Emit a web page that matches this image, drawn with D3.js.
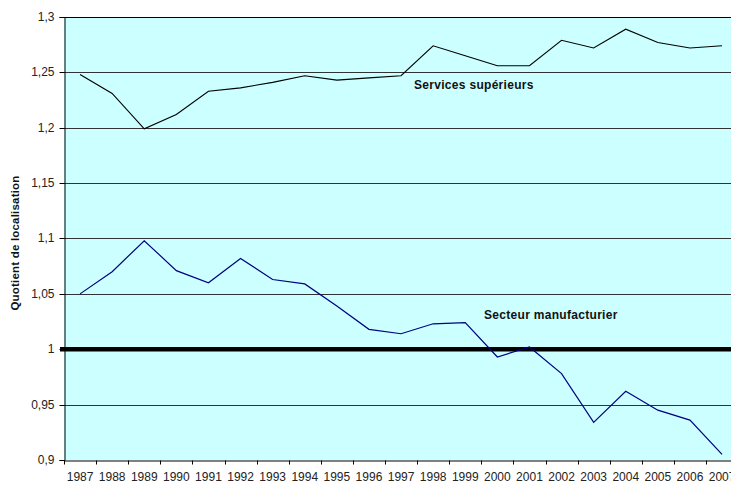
<!DOCTYPE html>
<html>
<head>
<meta charset="utf-8">
<script src="https://cdn.jsdelivr.net/npm/d3@7"></script>
<style>
  body { margin: 0; background: #fff; }
  svg { display: block; font-family: Arial, "Liberation Sans", sans-serif; }
  .tick text { fill: #222; font-size: 12px; }
  .lbl { font-weight: bold; font-size: 12px; fill: #111; letter-spacing: 0.3px; }
</style>
</head>
<body>
<svg></svg>
<script>
// data
var years = ["1987","1988","1989","1990","1991","1992","1993","1994","1995","1996","1997",
             "1998","1999","2000","2001","2002","2003","2004","2005","2006","2007"];
var services = [1.248,1.231,1.199,1.212,1.233,1.236,1.241,1.247,1.243,1.245,1.247,
                1.274,1.265,1.256,1.256,1.279,1.272,1.289,1.277,1.272,1.274];
var manuf = [1.050,1.070,1.098,1.071,1.060,1.082,1.063,1.059,1.039,1.018,1.014,
             1.023,1.024,0.993,1.002,0.978,0.934,0.962,0.945,0.936,0.905];
var yTicks = [0.9,0.95,1,1.05,1.1,1.15,1.2,1.25,1.3];

var width = 731, height = 483;
var plotLeft = 64, plotTop = 17, plotBottom = 460;
var band = 32.1;

var svg = d3.select("svg")
    .attr("width", width)
    .attr("height", height);

var x = d3.scaleBand()
    .domain(years)
    .range([plotLeft, plotLeft + band * years.length])
    .padding(0);

var y = d3.scaleLinear()
    .domain([0.9, 1.3])
    .range([plotBottom, plotTop]);

var cx = d => x(d) + x.bandwidth() / 2;

// plot background
svg.append("rect")
    .attr("x", plotLeft)
    .attr("y", plotTop)
    .attr("width", x.range()[1] - plotLeft)
    .attr("height", plotBottom - plotTop)
    .attr("fill", "#ccffff");

// horizontal grid
svg.append("g")
  .selectAll("line")
  .data(yTicks.filter(d => d > 0.9))
  .enter()
  .append("line")
    .attr("x1", plotLeft)
    .attr("x2", x.range()[1])
    .attr("y1", d => Math.round(y(d)) + 0.5)
    .attr("y2", d => Math.round(y(d)) + 0.5)
    .attr("stroke", d => d === 1.3 ? "#000" : "#333")
    .attr("stroke-width", 1);

// y axis
var yAxis = svg.append("g")
    .attr("transform", "translate(" + (plotLeft + 0.5) + ",0)")
    .call(d3.axisLeft(y)
        .tickValues(yTicks)
        .tickSize(5)
        .tickPadding(5)
        .tickFormat(d => String(+d.toFixed(2)).replace(".", ",")));
yAxis.select(".domain").attr("stroke", "#000");
yAxis.selectAll(".tick line").attr("stroke", "#000");
yAxis.selectAll(".tick").attr("transform", d => "translate(0," + (Math.round(y(d)) + 0.5) + ")");

// x axis: labels at centres, ticks on band edges
var xAxis = svg.append("g")
    .attr("transform", "translate(0," + (plotBottom + 0.5) + ")")
    .call(d3.axisBottom(x).tickSize(0).tickPadding(12).tickSizeOuter(0));
xAxis.select(".domain").attr("stroke", "#000");
xAxis.selectAll(".tick line").remove();
xAxis.selectAll(".edge")
  .data(years)
  .enter()
  .append("line")
    .classed("edge", true)
    .attr("x1", d => Math.round(x(d)) + 0.5)
    .attr("x2", d => Math.round(x(d)) + 0.5)
    .attr("y1", 0)
    .attr("y2", 4)
    .attr("stroke", "#000");

// reference line at 1
svg.append("line")
    .attr("x1", plotLeft - 4)
    .attr("x2", x.range()[1])
    .attr("y1", y(1))
    .attr("y2", y(1))
    .attr("stroke", "#000")
    .attr("stroke-width", 4.5);

var line = d3.line()
    .x((d, i) => cx(years[i]))
    .y(d => y(d));

svg.append("path")
    .datum(services)
    .attr("fill", "none")
    .attr("stroke", "#000")
    .attr("stroke-width", 1.1)
    .attr("d", line);

svg.append("path")
    .datum(manuf)
    .attr("fill", "none")
    .attr("stroke", "#000080")
    .attr("stroke-width", 1.2)
    .attr("d", line);

// series labels
svg.append("text").classed("lbl", true)
    .attr("x", 414).attr("y", 89)
    .text("Services supérieurs");

svg.append("text").classed("lbl", true)
    .attr("x", 484).attr("y", 319)
    .text("Secteur manufacturier");

// y title
svg.append("text")
    .attr("transform", "translate(19," + 243 + ") rotate(-90)")
    .attr("text-anchor", "middle")
    .attr("font-weight", "bold")
    .attr("font-size", "11.5px")
    .attr("letter-spacing", "0.2px")
    .attr("fill", "#111")
    .text("Quotient de localisation");
</script>
</body>
</html>
